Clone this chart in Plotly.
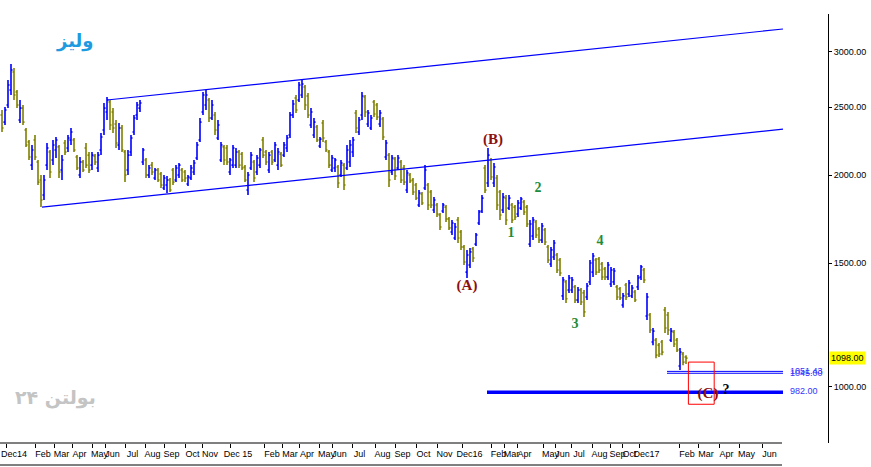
import math
import plotly.graph_objects as go

# ---------------- data ----------------
opens = [
    2437, 2381, 2518, 2645, 2806, 2628, 2397, 2493, 2320, 2231,
    2068, 2245, 2089, 1969, 1875, 2068, 2159, 2103, 2173, 2195,
    2035, 2223, 2187, 2245, 2245, 2124, 2002, 2089, 2187, 2137,
    2068, 2130, 2048, 2173, 2320, 2461, 2543, 2461, 2366, 2209,
    2335, 2159, 2035, 2159, 2305, 2437, 2493, 2089, 2103, 2002,
    2068, 1982, 2035, 2008, 1918, 1937, 1969, 2035, 1969, 2002,
    2035, 2022, 1944, 1982, 2022, 2117, 2245, 2461, 2518, 2560,
    2413, 2437, 2260, 2103, 2195, 2187, 2022, 2068, 2068, 2159,
    2144, 2055, 1906, 2048, 2089, 2022, 2068, 2245, 2159, 2035,
    2159, 2103, 2068, 2144, 2137, 2187, 2282, 2437, 2577, 2560,
    2602, 2671, 2594, 2358, 2282, 2343, 2202, 2374, 2231, 2159,
    2035, 2048, 2055, 2002, 2068, 2048, 2089, 2159, 2453, 2305,
    2437, 2585, 2366, 2335, 2543, 2518, 2366, 2405, 2124, 2137,
    2022, 2110, 2048, 2089, 2048, 1906, 2002, 1969, 1937, 1814,
    1881, 1918, 1937, 1893, 1785, 1814, 1756, 1779, 1802, 1733,
    1661, 1628, 1727, 1661, 1581, 1456, 1490, 1571, 1596, 1710,
    1779, 2048, 1950, 2103, 1950, 1982, 1893, 1785, 1856, 1796,
    1814, 1802, 1762, 1796, 1832, 1802, 1596, 1639, 1716, 1677,
    1618, 1672, 1581, 1495, 1530, 1540, 1515, 1347, 1410, 1373,
    1373, 1387, 1329, 1373, 1360, 1342, 1410, 1456, 1515, 1520,
    1495, 1471, 1433, 1400, 1410, 1387, 1378, 1307, 1396, 1355,
    1347, 1364, 1387, 1433, 1466, 1261, 1265, 1158, 1165, 1146,
    1158, 1286, 1265, 1165, 1196, 1165, 1070, 1113, 1102,
]
highs = [
    2477, 2502, 2734, 2881, 2844, 2645, 2560, 2518, 2335, 2245,
    2209, 2282, 2103, 2002, 2002, 2223, 2173, 2245, 2267, 2209,
    2137, 2245, 2282, 2335, 2260, 2137, 2124, 2103, 2223, 2159,
    2159, 2144, 2159, 2297, 2535, 2585, 2560, 2493, 2397, 2374,
    2358, 2173, 2173, 2282, 2437, 2543, 2560, 2187, 2117, 2068,
    2089, 2048, 2048, 2022, 2002, 1995, 1982, 2048, 2068, 2082,
    2048, 2035, 2002, 2068, 2103, 2231, 2413, 2628, 2645, 2577,
    2560, 2461, 2397, 2231, 2209, 2209, 2117, 2209, 2187, 2173,
    2159, 2068, 2022, 2159, 2103, 2137, 2187, 2267, 2173, 2159,
    2173, 2231, 2187, 2159, 2231, 2282, 2461, 2560, 2602, 2716,
    2734, 2689, 2619, 2493, 2413, 2358, 2267, 2397, 2245, 2173,
    2137, 2117, 2068, 2103, 2082, 2209, 2245, 2267, 2477, 2421,
    2628, 2602, 2477, 2437, 2560, 2535, 2477, 2421, 2245, 2152,
    2137, 2124, 2137, 2103, 2068, 2035, 2015, 1982, 1950, 1906,
    1893, 2068, 1950, 1906, 1862, 1826, 1767, 1826, 1814, 1744,
    1727, 1710, 1744, 1672, 1591, 1566, 1576, 1581, 1655, 1785,
    1875, 2068, 2187, 2117, 2082, 2002, 1906, 1887, 1875, 1875,
    1826, 1814, 1844, 1862, 1844, 1814, 1727, 1744, 1727, 1688,
    1710, 1683, 1591, 1581, 1618, 1550, 1525, 1433, 1419, 1442,
    1433, 1396, 1387, 1382, 1373, 1405, 1515, 1550, 1525, 1530,
    1505, 1481, 1505, 1481, 1476, 1396, 1387, 1360, 1405, 1419,
    1396, 1373, 1442, 1490, 1476, 1360, 1273, 1212, 1173, 1154,
    1165, 1299, 1278, 1212, 1204, 1173, 1135, 1120, 1109,
]
lows = [
    2305, 2358, 2493, 2602, 2560, 2493, 2374, 2358, 2195, 2103,
    2035, 2103, 1937, 1802, 1844, 2035, 1982, 2068, 2117, 1982,
    1969, 2137, 2159, 2209, 2159, 2035, 1982, 2022, 2048, 2015,
    2035, 2068, 2022, 2137, 2282, 2397, 2320, 2297, 2187, 2173,
    2159, 1956, 2002, 2130, 2282, 2397, 2461, 2068, 1982, 1982,
    2002, 1969, 1956, 1918, 1906, 1887, 1893, 1937, 1956, 1982,
    1956, 1956, 1931, 1969, 2002, 2103, 2231, 2437, 2477, 2381,
    2397, 2282, 2245, 2089, 2068, 2068, 2002, 2048, 2048, 2048,
    2035, 1956, 1875, 2035, 1956, 2002, 2048, 2117, 2068, 2015,
    2068, 2089, 2035, 2055, 2124, 2159, 2260, 2413, 2453, 2543,
    2577, 2477, 2413, 2335, 2260, 2231, 2187, 2231, 2159, 2048,
    2022, 2022, 1918, 1989, 1906, 2035, 2055, 2124, 2297, 2282,
    2397, 2421, 2343, 2320, 2421, 2397, 2343, 2245, 2103, 1925,
    2002, 1969, 2035, 1950, 1937, 1887, 1950, 1875, 1844, 1802,
    1814, 1906, 1785, 1796, 1767, 1744, 1672, 1767, 1716, 1672,
    1644, 1618, 1602, 1566, 1490, 1428, 1476, 1505, 1586, 1699,
    1767, 1887, 1925, 1969, 1925, 1785, 1727, 1767, 1699, 1785,
    1710, 1727, 1744, 1785, 1756, 1688, 1581, 1618, 1628, 1602,
    1602, 1591, 1500, 1481, 1515, 1452, 1438, 1329, 1316, 1360,
    1360, 1316, 1316, 1307, 1257, 1329, 1396, 1433, 1442, 1452,
    1419, 1419, 1419, 1387, 1396, 1329, 1329, 1295, 1329, 1342,
    1338, 1320, 1373, 1419, 1405, 1244, 1192, 1146, 1098, 1102,
    1109, 1192, 1185, 1158, 1139, 1120, 1056, 1073, 1077,
]
closes = [
    2335, 2477, 2689, 2825, 2602, 2518, 2493, 2381, 2209, 2124,
    2173, 2124, 1956, 1844, 1969, 2187, 2022, 2209, 2245, 2022,
    2103, 2159, 2260, 2305, 2173, 2048, 2089, 2035, 2068, 2035,
    2137, 2089, 2137, 2267, 2493, 2560, 2358, 2335, 2223, 2335,
    2173, 2002, 2137, 2260, 2413, 2518, 2535, 2173, 2002, 2048,
    2022, 2035, 1969, 1937, 1982, 1969, 1906, 1956, 2048, 2068,
    1969, 1982, 1989, 2048, 2082, 2209, 2381, 2602, 2602, 2413,
    2518, 2320, 2358, 2209, 2103, 2089, 2103, 2187, 2159, 2068,
    2048, 1969, 2002, 2137, 1982, 2117, 2173, 2137, 2089, 2137,
    2089, 2209, 2159, 2068, 2209, 2260, 2437, 2527, 2477, 2689,
    2698, 2518, 2437, 2461, 2381, 2245, 2252, 2260, 2173, 2068,
    2117, 2103, 1950, 2082, 1937, 2173, 2209, 2245, 2335, 2397,
    2594, 2461, 2453, 2413, 2445, 2421, 2453, 2267, 2223, 1969,
    2117, 1995, 2117, 1969, 1956, 2015, 1963, 1893, 1856, 1887,
    1826, 2035, 1814, 1814, 1844, 1762, 1688, 1814, 1733, 1683,
    1710, 1688, 1628, 1581, 1505, 1540, 1556, 1525, 1644, 1773,
    1856, 1906, 2137, 1989, 2055, 1814, 1756, 1862, 1727, 1856,
    1727, 1744, 1826, 1850, 1773, 1705, 1705, 1727, 1644, 1618,
    1694, 1607, 1515, 1566, 1602, 1466, 1452, 1419, 1334, 1428,
    1419, 1329, 1373, 1320, 1278, 1391, 1500, 1535, 1456, 1466,
    1433, 1433, 1490, 1466, 1461, 1342, 1338, 1347, 1342, 1405,
    1382, 1329, 1428, 1481, 1419, 1342, 1204, 1200, 1109, 1113,
    1120, 1212, 1204, 1200, 1150, 1128, 1120, 1084, 1098,
]
bar_index = list(range(len(closes)))
last_price = 1098.00

# trend channel anchors (bar index, price)
upper_channel_x = [35.0, 260.33]
upper_channel_y = [2560, 3231]
lower_channel_x = [13.33, 260.33]
lower_channel_y = [1802, 2327]

# horizontal support levels
level_values = [1051.43, 1045.00, 982.00]
level_starts = [221.67, 221.67, 161.67]
level_end = 260.33
level_label_x = 262.67

# Elliott wave labels (bar index, price)
wave_A_B = {"text": ["(B)", "(A)", "(C)"], "x": [163.67, 155.0, 235.33], "y": [2245, 1391, 976]}
wave_nums = {"text": ["1", "2", "3", "4"], "x": [169.67, 178.67, 191.0, 199.33], "y": [1650, 1918, 1228, 1612]}
question = {"text": ["?"], "x": [241.33], "y": [988]}

# target box (bar index, price)
box_x = [228.8, 237.4]
box_y = [944, 1084]

# x-axis month labels and their positions (bar index)
month_labels = ["Dec14", "Feb", "Mar", "Apr", "May", "Jun", "Jul", "Aug", "Sep", "Oct", "Nov",
                "Dec 15", "Feb", "Mar", "Apr", "May", "Jun", "Jul", "Aug", "Sep", "Oct", "Nov",
                "Dec16", "Feb", "Mar", "Apr", "May", "Jun", "Jul", "Aug", "Sep", "Oct",
                "Dec17", "Feb", "Mar", "Apr", "May", "Jun"]
month_pos = [4.0, 13.67, 19.83, 25.83, 32.5, 36.83, 43.5, 50.17, 56.5, 63.5, 69.33,
             78.67, 90.0, 96.0, 101.67, 108.17, 112.5, 119.17, 126.83, 133.5, 140.5, 147.5,
             155.83, 165.5, 169.83, 174.17, 182.83, 186.83, 192.33, 199.17, 205.17, 209.17,
             214.83, 228.33, 234.67, 241.5, 248.17, 255.83]
y_ticks = [1000, 1500, 2000, 2500, 3000]

# ---------------- figure ----------------
BLUE = "#0000FF"
OLIVE = "#808000"
AXFONT = "Liberation Sans, Arial, sans-serif"

fig = go.Figure()

fig.add_trace(go.Ohlc(
    x=bar_index, open=opens, high=highs, low=lows, close=closes,
    increasing=dict(line=dict(color=BLUE, width=1.6)),
    decreasing=dict(line=dict(color=OLIVE, width=1.6)),
    tickwidth=0.5, hoverinfo="skip", showlegend=False,
))

for xs, ys in [(upper_channel_x, upper_channel_y), (lower_channel_x, lower_channel_y)]:
    fig.add_trace(go.Scatter(x=xs, y=ys, mode="lines", line=dict(color=BLUE, width=1.2),
                             hoverinfo="skip", showlegend=False))

for val, start in zip(level_values, level_starts):
    w = 3.5 if val < 1000 else 1
    fig.add_trace(go.Scatter(x=[start, level_end], y=[val, val], mode="lines",
                             line=dict(color=BLUE, width=w), hoverinfo="skip", showlegend=False))

fig.add_trace(go.Scatter(
    x=[level_label_x] * len(level_values), y=level_values,
    text=[f"{v:.2f}" for v in level_values], mode="text", textposition="middle right",
    textfont=dict(color="#3333FF", size=9, family=AXFONT), hoverinfo="skip", showlegend=False))

# target box
fig.add_trace(go.Scatter(
    x=[box_x[0], box_x[1], box_x[1], box_x[0], box_x[0]],
    y=[box_y[0], box_y[0], box_y[1], box_y[1], box_y[0]],
    mode="lines", line=dict(color="#FF0000", width=1), hoverinfo="skip", showlegend=False))

fig.add_trace(go.Scatter(
    x=wave_A_B["x"], y=wave_A_B["y"], text=wave_A_B["text"], mode="text",
    textfont=dict(color="#8B1010", size=15, family="Liberation Serif, serif", weight="bold"),
    hoverinfo="skip", showlegend=False))
fig.add_trace(go.Scatter(
    x=wave_nums["x"], y=wave_nums["y"], text=wave_nums["text"], mode="text",
    textfont=dict(color="#1E8C3A", size=14, family="Liberation Serif, serif", weight="bold"),
    hoverinfo="skip", showlegend=False))
fig.add_trace(go.Scatter(
    x=question["x"], y=question["y"], text=question["text"], mode="text",
    textfont=dict(color="#000000", size=14, family="Liberation Serif, serif", weight="bold"),
    hoverinfo="skip", showlegend=False))

x_min, x_max = -0.667, 275.333

fig.update_layout(
    width=871, height=467,
    margin=dict(l=0, r=43, t=14, b=24),
    paper_bgcolor="white", plot_bgcolor="white",
    hovermode=False,
    xaxis=dict(
        range=[x_min, x_max], showgrid=False, zeroline=False, showline=False,
        rangeslider=dict(visible=False),
        tickmode="array", tickvals=month_pos, ticktext=month_labels,
        ticks="", tickangle=0, ticklabelstandoff=4,
        tickfont=dict(size=9, color="black", family=AXFONT),
        minor=dict(tickmode="array", tickvals=[p - 2.4 for p in month_pos],
                   ticks="outside", ticklen=4, tickcolor="black", tickwidth=1),
    ),
    yaxis=dict(
        type="log", range=[math.log10(831.4), math.log10(3394)],
        side="right", showgrid=False, zeroline=False,
        showline=True, linecolor="black", linewidth=1,
        tickmode="array", tickvals=y_ticks, ticktext=[f"{v:.2f}" for v in y_ticks],
        ticks="outside", ticklen=3, tickcolor="black",
        tickfont=dict(size=9, color="black", family=AXFONT),
    ),
    shapes=[
        dict(type="line", xref="x", yref="paper", x0=x_min, x1=260.0, y0=0, y1=0,
             line=dict(color="black", width=1)),
        dict(type="line", xref="x", yref="paper", x0=x_min, x1=260.0, y0=-0.0513, y1=-0.0513,
             line=dict(color="black", width=1)),
    ],
    annotations=[
        dict(text="<b>ولیز</b>", xref="paper", yref="paper", x=0.0906, y=0.937,
             xanchor="center", yanchor="middle",
             showarrow=False, font=dict(size=18, color="#1E9BE0", family="DejaVu Sans")),
        dict(text="<b>بولتن ۲۴</b>", xref="paper", yref="paper", x=0.0676, y=0.105,
             xanchor="center", yanchor="middle",
             showarrow=False, font=dict(size=19, color="#C4C4C4", family="DejaVu Sans")),
        dict(text=f"{last_price:.2f}", xref="paper", yref="y", x=1, y=math.log10(last_price),
             xanchor="left", xshift=1, showarrow=False, bgcolor="#FFFF00", borderpad=1,
             font=dict(size=9, color="black", family=AXFONT)),
    ],
)

fig.write_html("out.html", config={"displayModeBar": False},
               post_script="document.body.style.margin='0';")
